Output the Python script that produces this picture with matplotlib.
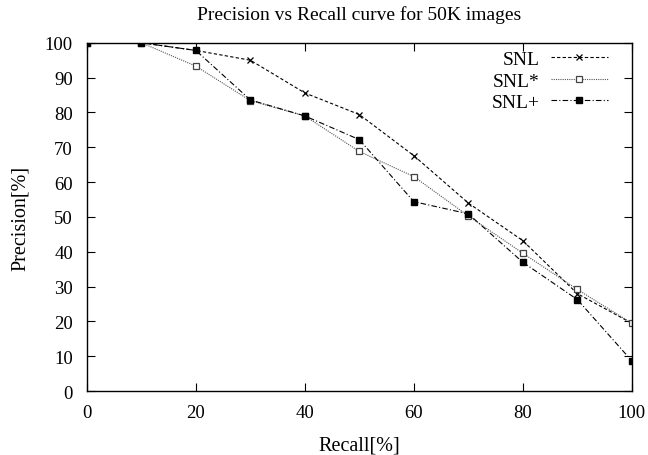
import matplotlib
matplotlib.use("Agg")
import matplotlib.pyplot as plt

plt.rcParams['font.family'] = ['Liberation Serif', 'DejaVu Serif']

recall = [0, 10, 20, 30, 40, 50, 60, 70, 80, 90, 100]
snl = [100, 100, 97.8, 95.0, 85.6, 79.4, 67.6, 54.0, 43.2, 28.0, 19.5]
snl_star = [100, 100, 93.3, 83.4, 79.0, 68.8, 61.6, 50.3, 39.6, 29.2, 19.5]
snl_plus = [100, 100, 97.8, 83.6, 79.0, 72.2, 54.4, 50.9, 37.0, 26.3, 8.7]

x_ticks = [0, 20, 40, 60, 80, 100]
y_ticks = [0, 10, 20, 30, 40, 50, 60, 70, 80, 90, 100]

fig = plt.figure(figsize=(6.48, 4.56), dpi=100)
ax = fig.add_axes([0.134, 0.140, 0.841, 0.764])

ax.plot(recall, snl, color='black', lw=0.8, linestyle=(0, (3, 2)),
        marker='x', ms=5, mew=0.9, label='SNL')
ax.plot(recall, snl_star, color='#555555', lw=0.8, linestyle=(0, (1, 1)),
        marker='s', ms=4.5, mfc='white', mec='#444444', mew=0.9, label='SNL*')
ax.plot(recall, snl_plus, color='black', lw=0.8, linestyle=(0, (5, 2, 1, 2)),
        marker='s', ms=4.5, mfc='black', mec='black', label='SNL+')

ax.set_xlim(0, 100)
ax.set_ylim(0, 100)
ax.set_xticks(x_ticks)
ax.set_yticks(y_ticks)
ax.tick_params(direction='in', length=6, width=0.8, top=True, right=True,
               labelsize=13.5)
ax.tick_params(axis='x', pad=9)
ax.tick_params(axis='y', pad=10)
for s in ax.spines.values():
    s.set_linewidth(1.0)

ax.set_title('Precision vs Recall curve for 50K images', fontsize=14, pad=17)
ax.set_xlabel('Recall[%]', fontsize=14.5, labelpad=11)
ax.set_ylabel('Precision[%]', fontsize=14.5, labelpad=11)

leg = ax.legend(loc='upper right', bbox_to_anchor=(0.970, 1.0),
                frameon=False, markerfirst=False,
                fontsize=14, handlelength=2.9, handletextpad=0.6,
                labelspacing=0.2, borderaxespad=0.0)
for t in leg.get_texts():
    t.set_ha('right')
leg._legend_box.align = 'right'

fig.savefig('out.png', dpi=100)
